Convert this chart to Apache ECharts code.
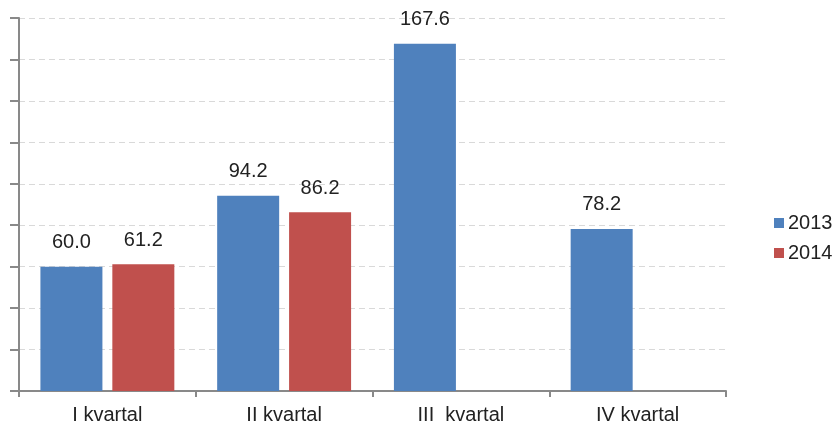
<!DOCTYPE html>
<html>
<head>
<meta charset="utf-8">
<script src="https://cdn.jsdelivr.net/npm/echarts@6/dist/echarts.min.js"></script>
<style>
  html, body { margin: 0; padding: 0; background: #fff; }
  #chart { width: 834px; height: 428px; }
</style>
</head>
<body>
<div id="chart"></div>
<script>
const categories = ['I kvartal', 'II kvartal', 'III  kvartal', 'IV kvartal'];
const series2013 = [60.0, 94.2, 167.6, 78.2];
const series2014 = [61.2, 86.2, null, null];
const yTicks = { min: 0, max: 180, step: 20 };

const chart = echarts.init(document.getElementById('chart'));

const labelStyle = {
  show: true,
  position: 'top',
  distance: 14,
  color: '#222',
  fontSize: 20,
  fontFamily: 'Liberation Sans, Arial, sans-serif',
  formatter: (p) => p.value == null ? '' : p.value.toFixed(1)
};

chart.setOption({
  animation: false,
  textStyle: { fontFamily: 'Liberation Sans, Arial, sans-serif' },
  grid: { left: 19, right: 108, top: 18, bottom: 37, containLabel: false },
  legend: {
    orient: 'vertical',
    left: 769,
    top: 208,
    itemWidth: 10,
    itemHeight: 10,
    itemGap: 10,
    icon: 'rect',
    textStyle: { color: '#222', fontSize: 20, padding: [0, 0, 0, -1] },
    data: ['2013', '2014']
  },
  xAxis: {
    type: 'category',
    data: categories,
    axisLine: { lineStyle: { color: '#898989', width: 2 } },
    axisTick: { show: true, length: 6, alignWithLabel: false, lineStyle: { color: '#898989', width: 2 } },
    axisLabel: { color: '#222', fontSize: 20, margin: 14 }
  },
  yAxis: {
    type: 'value',
    min: yTicks.min,
    max: yTicks.max,
    interval: yTicks.step,
    axisLine: { show: true, lineStyle: { color: '#898989', width: 2 } },
    axisTick: { show: true, length: 9, lineStyle: { color: '#898989', width: 2 } },
    axisLabel: { show: false },
    splitLine: { lineStyle: { color: '#d9d9d9', type: [6, 4], width: 1 } }
  },
  series: [
    {
      name: '2013',
      type: 'bar',
      data: series2013,
      barWidth: 62,
      barGap: '16%',
      itemStyle: { color: '#4f81bd' },
      label: labelStyle
    },
    {
      name: '2014',
      type: 'bar',
      data: series2014,
      barWidth: 62,
      barGap: '16%',
      itemStyle: { color: '#c0504d' },
      label: labelStyle
    }
  ]
});
</script>
</body>
</html>
